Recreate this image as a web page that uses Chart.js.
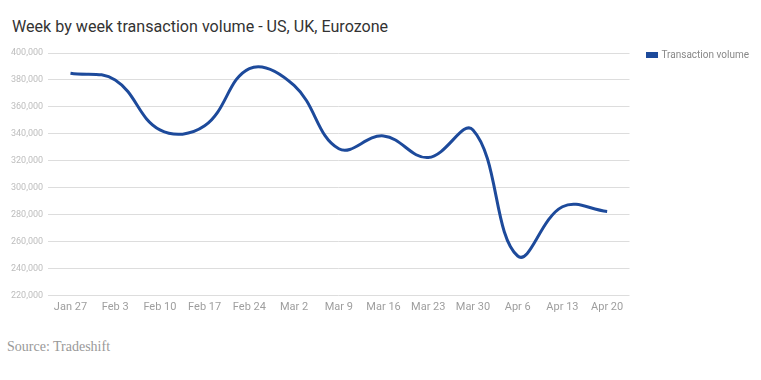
<!DOCTYPE html>
<html>
<head>
<meta charset="utf-8">
<script src="https://cdn.jsdelivr.net/npm/chart.js@4"></script>
<style>
  html, body { margin: 0; padding: 0; background: #fff; }
  #wrap { position: relative; width: 761px; height: 380px; overflow: hidden; }
  #title { position: absolute; left: 12px; top: 17px; font-family: Roboto, sans-serif; font-size: 16.1px; color: #333; white-space: nowrap; }
  #cv { position: absolute; left: 0; top: 0; }
  #source { position: absolute; left: 7px; top: 339px; font-family: "Liberation Serif", "DejaVu Serif", serif; font-size: 14px; color: #999; }
</style>
</head>
<body>
<div id="wrap">
  <div id="title">Week by week transaction volume - US, UK, Eurozone</div>
  <canvas id="cv" width="761" height="319"></canvas>
  <div id="source">Source: Tradeshift</div>
</div>
<script>
const categories = ["Jan 27","Feb 3","Feb 10","Feb 17","Feb 24","Mar 2","Mar 9","Mar 16","Mar 23","Mar 30","Apr 6","Apr 13","Apr 20"];
const transactionVolume = [385000, 380000, 343000, 346000, 388500, 376000, 329000, 338500, 322500, 343000, 249500, 286000, 282500];
const seriesName = "Transaction volume";
const yMin = 220000, yMax = 400000, yStep = 20000;

const blue = "#1d4a9b";

new Chart(document.getElementById("cv"), {
  type: "line",
  data: {
    labels: categories,
    datasets: [{
      label: seriesName,
      data: transactionVolume,
      borderColor: blue,
      backgroundColor: blue,
      borderWidth: 3,
      pointRadius: 0,
      pointHoverRadius: 0,
      tension: 0.4,
      fill: false
    }]
  },
  options: {
    responsive: false,
    animation: false,
    layout: { padding: { top: 32, left: 6, right: 2, bottom: 0 } },
    plugins: {
      title: {
        display: true,
        text: "",
        fullSize: false,
        font: { size: 10, lineHeight: 1 },
        padding: { top: 0, bottom: 11 }
      },
      legend: {
        position: "right",
        align: "start",
        labels: {
          boxWidth: 9,
          boxHeight: 3,
          padding: 18,
          color: "#888",
          font: { family: "Roboto", size: 10 }
        }
      },
      tooltip: { enabled: false }
    },
    scales: {
      x: {
        offset: true,
        grid: { display: false, drawTicks: false },
        border: { display: false },
        ticks: { color: "#9e9e9e", font: { family: "Roboto", size: 11 }, maxRotation: 0, autoSkip: false, padding: 5 }
      },
      y: {
        min: yMin,
        max: yMax,
        grid: { color: "#dddddd", lineWidth: 1, drawTicks: false },
        border: { display: false },
        ticks: { stepSize: yStep, color: "#bdbdbd", font: { family: "Roboto", size: 9 }, padding: 5 }
      }
    }
  }
});
</script>
</body>
</html>
